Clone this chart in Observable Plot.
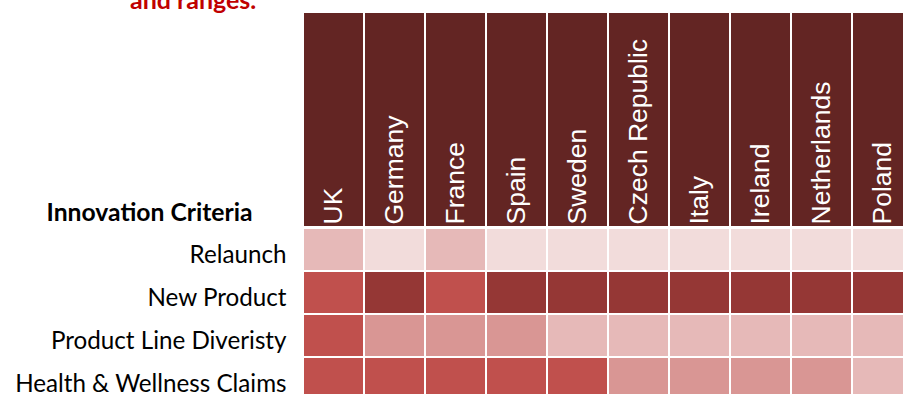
<!DOCTYPE html>
<html>
<head>
<meta charset="utf-8">
<script src="https://cdn.jsdelivr.net/npm/d3@7"></script>
<script src="https://cdn.jsdelivr.net/npm/@observablehq/plot@0.6"></script>
<style>
  html, body { margin: 0; padding: 0; background: #fff; overflow: hidden; }
  #wrap { position: relative; width: 903px; height: 394px; }
  #title { position: absolute; left: 130px; top: -13px; font: bold 25px Lato, sans-serif; line-height: 24px; color: #C00000; white-space: nowrap; }
</style>
</head>
<body>
<div id="wrap">
  <div id="title">and ranges.</div>
</div>
<script>
const countries = ["UK", "Germany", "France", "Spain", "Sweden", "Czech Republic", "Italy", "Ireland", "Netherlands", "Poland"];
const criteria = ["Relaunch", "New Product", "Product Line Diveristy", "Health & Wellness Claims"];
// intensity level (1 = lowest, 5 = highest) per country, in country order
const relaunch    = [2, 1, 2, 1, 1, 1, 1, 1, 1, 1];
const newProduct  = [4, 5, 4, 5, 5, 5, 5, 5, 5, 5];
const productLine = [4, 3, 3, 3, 2, 2, 2, 2, 2, 2];
const health      = [4, 4, 4, 4, 4, 3, 3, 3, 3, 2];
const levels = [1, 2, 3, 4, 5];
const levelColors = ["#F2DCDB", "#E6B9B8", "#D99694", "#C0504D", "#953735"];
const headerColor = "#632523";
const rowTitle = "Innovation Criteria";

const series = [relaunch, newProduct, productLine, health];
const cells = criteria.flatMap((c, i) => countries.map((k, j) => ({criterion: c, country: k, level: series[i][j]})));

const W = 903, H = 394, mLeft = 301.7, mTop = 13, headerBottom = 226;
const chart = Plot.plot({
  width: W,
  height: H,
  marginTop: mTop,
  marginLeft: mLeft,
  marginRight: 0,
  marginBottom: 0,
  style: {fontFamily: "Lato, sans-serif", fontSize: "24px", color: "#000", background: "#fff"},
  x: {domain: countries, range: [mLeft, mLeft + 612.6], padding: 0, axis: null},
  y: {domain: criteria, range: [227, 400], padding: 0},
  color: {type: "ordinal", domain: levels, range: levelColors},
  marks: [
    Plot.cell(countries, {x: d => d, fill: headerColor, insetLeft: 1, insetRight: 1, insetBottom: H - headerBottom}),
    Plot.text(countries, {x: d => d, text: d => d, frameAnchor: "top", dy: 211, rotate: -90, textAnchor: "start", lineAnchor: "middle", fill: "white", fontSize: 26.5, fontFamily: "Liberation Sans, Arial, sans-serif"}),
    Plot.cell(cells, {x: "country", y: "criterion", fill: "level", inset: 1}),
    Plot.axisY({anchor: "left", tickSize: 0, tickPadding: 15.7, label: null, lineAnchor: "bottom", dy: 13, fontSize: 24.2, fill: "#000"}),
    Plot.text([rowTitle], {frameAnchor: "top-left", text: d => d, dx: -152.7, dy: 207, textAnchor: "middle", lineAnchor: "bottom", fontWeight: "bold", fontSize: 24.7, fill: "#000"})
  ]
});
document.getElementById("wrap").prepend(chart);
</script>
</body>
</html>
